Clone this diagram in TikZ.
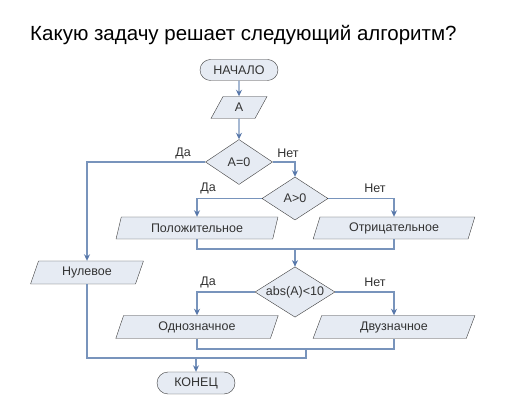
\documentclass[tikz,border=0pt]{standalone}
\usepackage{fontspec}
\setmainfont{Liberation Sans}
\usetikzlibrary{shapes.geometric,shapes.misc,arrows.meta}
\definecolor{boxfill}{RGB}{230,235,243}
\definecolor{boxline}{RGB}{62,62,62}
\definecolor{flow}{RGB}{120,148,188}
\definecolor{tip}{RGB}{88,120,170}
\begin{document}
\begin{tikzpicture}[x=1pt,y=-1pt,>={Stealth[length=6.5pt,width=6pt,color=tip]},
    font=\fontsize{12.5}{14}\selectfont,
    every node/.style={text=black!80,inner sep=0pt},
    term/.style={rounded rectangle,draw=boxline,fill=boxfill,minimum width=78,minimum height=21},
    io/.style={trapezium,trapezium left angle=70,trapezium right angle=110,trapezium stretches=true,
               draw=boxline,fill=boxfill,minimum height=22},
    cond/.style={diamond,draw=boxline,fill=boxfill,aspect=1.5},
    link/.style={flow,line width=1.1pt},
    go/.style={link,->}]
  \useasboundingbox[fill=white] (0,0) rectangle (506,411);
  \node[anchor=base west,text=black,font=\fontsize{20.5}{24}\selectfont] (title) at (30,41)
       {Какую задачу решает следующий алгоритм?};
  % blocks
  \node[term] (start) at (239,70) {НАЧАЛО};
  \node[io,minimum width=56] (inA) at (239,107.5) {A};
  \node[cond,minimum width=67,minimum height=45] (d0) at (239,162) {A=0};
  \node[cond,minimum width=66,minimum height=43] (dpos) at (295,198.5) {A>0};
  \node[io,minimum width=163] (pos) at (197,228) {Положительное};
  \node[io,minimum width=163] (neg) at (394,228) {Отрицательное};
  \node[io,minimum width=113,minimum height=23] (zero) at (87,272.5) {Нулевое};
  \node[cond,minimum width=80,minimum height=50] (d10) at (295,292) {abs(A)<10};
  \node[io,minimum width=163,minimum height=23] (one) at (197,327) {Однозначное};
  \node[io,minimum width=163,minimum height=23] (two) at (394,327) {Двузначное};
  \node[term,minimum height=22] (stop) at (196,383) {КОНЕЦ};
  \coordinate (m1) at (295,249);
  \coordinate (m2) at (306,349);
  \coordinate (m3) at (306,358);
  % connectors
  \draw[go] (start) -- (inA);
  \draw[go] (inA) -- (d0);
  \draw[go] (d0.west) -| (zero.north);
  \draw[go] (d0.east) -| (dpos.north);
  \draw[go] (dpos.west) -| (pos.north);
  \draw[go] (dpos.east) -| (neg.north);
  \draw[link] (pos.south) |- (m1) -| (neg.south);
  \draw[go] (m1) -- (d10.north);
  \draw[go] (d10.west) -| (one.north);
  \draw[go] (d10.east) -| (two.north);
  \draw[link] (one.south) |- (m2) -| (two.south);
  \draw[link] (zero.south) |- (m3) -- (m2);
  \draw[go] (stop.north |- m3) -- (stop.north);
  % labels
  \node (yes0) at (183,153) {Да};
  \node (no0) at (288,153) {Нет};
  \node (yes1) at (208,188) {Да};
  \node (no1) at (375,188) {Нет};
  \node (yes2) at (208,282) {Да};
  \node (no2) at (375,282) {Нет};
\end{tikzpicture}
\end{document}
